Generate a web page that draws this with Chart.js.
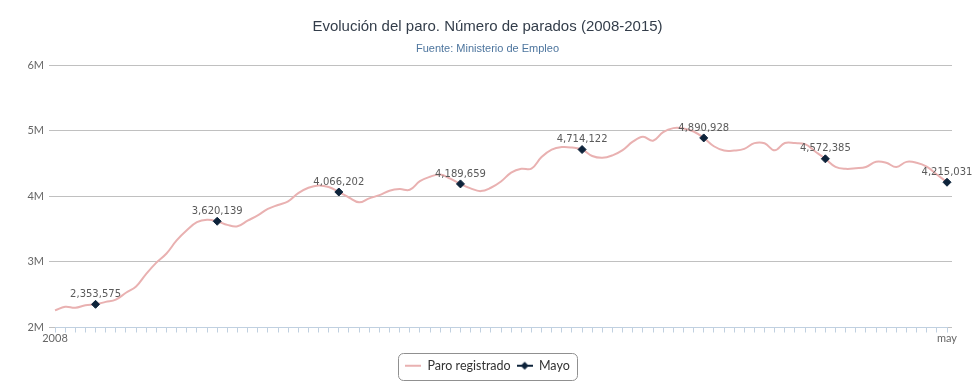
<!DOCTYPE html>
<html>
<head>
<meta charset="utf-8">
<script src="https://cdn.jsdelivr.net/npm/chart.js@4.4.0/dist/chart.umd.min.js"></script>
<style>
  html, body { margin: 0; padding: 0; background: #fff; }
  #wrap { width: 975px; height: 390px; }
</style>
</head>
<body>
<div id="wrap"><canvas id="myChart" width="975" height="390"></canvas></div>
<script>
// paro registrado, enero 2008 - mayo 2015
const months = [
    'ene 2008','feb 2008','mar 2008','abr 2008','may 2008','jun 2008','jul 2008','ago 2008','sep 2008','oct 2008','nov 2008','dic 2008',
    'ene 2009','feb 2009','mar 2009','abr 2009','may 2009','jun 2009','jul 2009','ago 2009','sep 2009','oct 2009','nov 2009','dic 2009',
    'ene 2010','feb 2010','mar 2010','abr 2010','may 2010','jun 2010','jul 2010','ago 2010','sep 2010','oct 2010','nov 2010','dic 2010',
    'ene 2011','feb 2011','mar 2011','abr 2011','may 2011','jun 2011','jul 2011','ago 2011','sep 2011','oct 2011','nov 2011','dic 2011',
    'ene 2012','feb 2012','mar 2012','abr 2012','may 2012','jun 2012','jul 2012','ago 2012','sep 2012','oct 2012','nov 2012','dic 2012',
    'ene 2013','feb 2013','mar 2013','abr 2013','may 2013','jun 2013','jul 2013','ago 2013','sep 2013','oct 2013','nov 2013','dic 2013',
    'ene 2014','feb 2014','mar 2014','abr 2014','may 2014','jun 2014','jul 2014','ago 2014','sep 2014','oct 2014','nov 2014','dic 2014',
    'ene 2015','feb 2015','mar 2015','abr 2015','may 2015'
];

const paro = [
    2261000, 2315000, 2300975, 2338517, 2353575, 2390403, 2426185, 2530001, 2625368, 2818026, 2989269, 3128963,
    3327801, 3481859, 3605402, 3644041, 3620139, 3564889, 3544066, 3629080, 3709447, 3808353, 3868946, 3923603,
    4048493, 4130625, 4166613, 4142425, 4066202, 3982368, 3908262, 3969661, 4017763, 4085976, 4110294, 4100073,
    4231003, 4299263, 4333669, 4269360, 4189659, 4121801, 4079742, 4130927, 4226744, 4360926, 4420462, 4422359,
    4599829, 4712098, 4750867, 4744235, 4714122, 4615269, 4587455, 4625634, 4705279, 4833521, 4907817, 4848723,
    4980778, 5040222, 5035243, 4989193, 4890928, 4763680, 4698814, 4698783, 4724355, 4811383, 4808908, 4701338,
    4814435, 4812486, 4795866, 4684301, 4572385, 4449701, 4419860, 4427930, 4447650, 4526804, 4512153, 4447711,
    4525691, 4512384, 4451939, 4333016, 4215031
];

const mayoLabels = ['may 2008','may 2009','may 2010','may 2011','may 2012','may 2013','may 2014','may 2015'];
const mayoValues = [2353575, 3620139, 4066202, 4189659, 4714122, 4890928, 4572385, 4215031];

const yTicks = [2000000, 3000000, 4000000, 5000000, 6000000];
const xFirstLabel = '2008';
const xLastLabel = 'may';

const mayo = months.map(m => {
    const k = mayoLabels.indexOf(m);
    return k >= 0 ? mayoValues[k] : null;
});

const pink = '#e9b1b1';
const navy = '#0d233a';

function legendIcon(withDiamond, color) {
    const c = document.createElement('canvas');
    c.width = 16; c.height = 10;
    const g = c.getContext('2d');
    g.strokeStyle = color;
    g.lineWidth = 2;
    g.beginPath(); g.moveTo(0, 5); g.lineTo(16, 5); g.stroke();
    if (withDiamond) {
        g.fillStyle = color;
        g.beginPath();
        g.moveTo(8, 1); g.lineTo(12, 5); g.lineTo(8, 9); g.lineTo(4, 5);
        g.closePath(); g.fill();
    }
    return c;
}

const fmt = v => v.toString().replace(/\B(?=(\d{3})+(?!\d))/g, ',');

// numbers above the Mayo diamonds
const pointLabels = {
    id: 'pointLabels',
    afterDatasetsDraw(chart) {
        const ctx = chart.ctx;
        const meta = chart.getDatasetMeta(1);
        ctx.save();
        ctx.font = '10px "DejaVu Sans"';
        ctx.fillStyle = '#5a5a5a';
        ctx.textAlign = 'center';
        ctx.textBaseline = 'bottom';
        meta.data.forEach((pt, i) => {
            const v = chart.data.datasets[1].data[i];
            if (v == null) return;
            ctx.fillText(fmt(v), pt.x, pt.y - 5);
        });
        ctx.restore();
    }
};

// rounded frame round the legend
const legendFrame = {
    id: 'legendFrame',
    afterDraw(chart) {
        const boxes = chart.legend.legendHitBoxes;
        if (!boxes || !boxes.length) return;
        const left = Math.min(...boxes.map(b => b.left)) - 7;
        const right = Math.max(...boxes.map(b => b.left + b.width)) + 8;
        const top = Math.min(...boxes.map(b => b.top)) - 7;
        const bottom = Math.max(...boxes.map(b => b.top + b.height)) + 7;
        const ctx = chart.ctx;
        ctx.save();
        ctx.strokeStyle = '#909090';
        ctx.lineWidth = 1;
        ctx.beginPath();
        ctx.roundRect(Math.round(left) + 0.5, Math.round(top) + 0.5, Math.round(right - left), Math.round(bottom - top), 5);
        ctx.stroke();
        ctx.restore();
    }
};

const ctx = document.getElementById('myChart').getContext('2d');
const chart = new Chart(ctx, {
    type: 'line',
    data: {
        labels: months,
        datasets: [
            {
                label: 'Paro registrado',
                data: paro,
                borderColor: pink,
                backgroundColor: pink,
                borderWidth: 2,
                pointRadius: 0,
                tension: 0.4,
                order: 2
            },
            {
                label: 'Mayo',
                data: mayo,
                borderColor: navy,
                backgroundColor: navy,
                pointBackgroundColor: navy,
                pointBorderColor: navy,
                pointBorderWidth: 1,
                showLine: false,
                pointStyle: 'rectRot',
                pointRadius: 4,
                pointHoverRadius: 4,
                order: 1
            }
        ]
    },
    options: {
        responsive: false,
        animation: false,
        layout: {
            padding: { left: 0, right: 0, top: 0, bottom: 8 }
        },
        plugins: {
            title: {
                display: true,
                text: 'Evolución del paro. Número de parados (2008-2015)',
                color: '#333d4a',
                font: { family: '"Liberation Sans", Arial', size: 15, weight: 'normal' },
                padding: { top: 18, bottom: 6 }
            },
            subtitle: {
                display: true,
                text: 'Fuente: Ministerio de Empleo',
                color: '#4d759e',
                font: { family: '"Liberation Sans", Arial', size: 11 },
                padding: { top: 0, bottom: 10 }
            },
            legend: {
                position: 'bottom',
                labels: {
                    color: '#333333',
                    font: { family: 'Lato', size: 12.5 },
                    usePointStyle: true,
                    pointStyleWidth: 16,
                    padding: 6,
                    generateLabels(chart) {
                        return chart.data.datasets.map((ds, i) => ({
                            text: ds.label,
                            fillStyle: ds.borderColor,
                            strokeStyle: ds.borderColor,
                            lineWidth: 0,
                            pointStyle: legendIcon(i === 1, ds.borderColor),
                            fontColor: '#333333',
                            datasetIndex: i
                        }));
                    }
                }
            },
            tooltip: { enabled: false }
        },
        scales: {
            x: {
                afterFit(scale) { scale.height = 26; },
                grid: {
                    display: true,
                    drawOnChartArea: false,
                    drawTicks: true,
                    tickLength: 5,
                    color: '#c0d0e0'
                },
                border: { display: true, color: '#c0d0e0' },
                ticks: {
                    autoSkip: false,
                    maxRotation: 0,
                    padding: -1,
                    color: '#666666',
                    font: { family: 'Lato', size: 11 },
                    callback: (v, i, all) => i === 0 ? xFirstLabel : (i === all.length - 1 ? xLastLabel : '')
                }
            },
            y: {
                min: yTicks[0],
                max: yTicks[yTicks.length - 1],
                afterFit(scale) { scale.width = 55; },
                afterBuildTicks(scale) { scale.ticks = yTicks.map(v => ({ value: v })); },
                grid: {
                    color: '#c0c0c0',
                    drawTicks: true,
                    tickLength: 6
                },
                border: { display: false },
                ticks: {
                    padding: 5,
                    color: '#666666',
                    font: { family: 'Lato', size: 11 },
                    callback: v => (v / 1000000) + 'M'
                }
            },
            // empty right-hand axis: keeps the right margin and lets the grid run a little past the plot
            yRight: {
                position: 'right',
                min: yTicks[0],
                max: yTicks[yTicks.length - 1],
                afterFit(scale) { scale.width = 28; },
                afterBuildTicks(scale) { scale.ticks = yTicks.map(v => ({ value: v })); },
                grid: {
                    color: '#c0c0c0',
                    drawOnChartArea: false,
                    drawTicks: true,
                    tickLength: 5
                },
                border: { display: false },
                ticks: { display: false }
            }
        }
    },
    plugins: [pointLabels, legendFrame]
});
</script>
</body>
</html>
